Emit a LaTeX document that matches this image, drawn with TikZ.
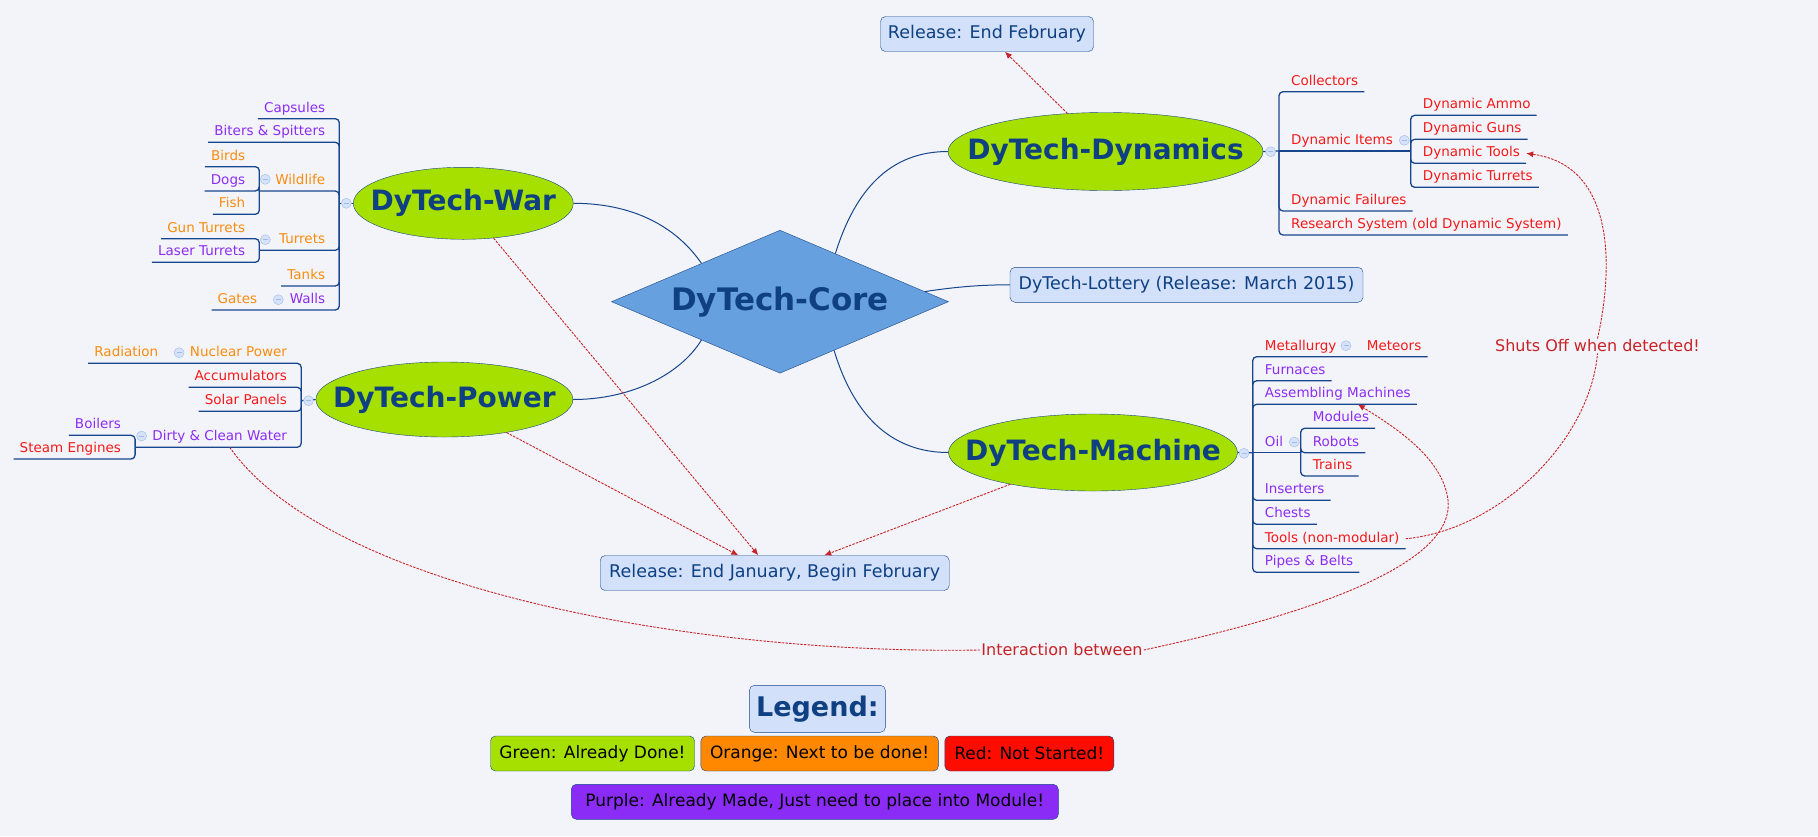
\documentclass[tikz,border=0pt]{standalone}
\usepackage{fontspec}
\setmainfont{DejaVu Sans}
\usepackage{tikz}
\usetikzlibrary{calc,shapes.geometric,arrows.meta,positioning}
\definecolor{mybg}{RGB}{242,244,249}
\definecolor{mygreen}{RGB}{165,224,0}
\definecolor{mynavy}{RGB}{14,64,130}
\definecolor{myline}{RGB}{24,70,140}
\definecolor{mycore}{RGB}{103,160,222}
\definecolor{mybox}{RGB}{210,224,250}
\definecolor{myred}{RGB}{245,25,25}
\definecolor{myorange}{RGB}{250,140,15}
\definecolor{mypurple}{RGB}{140,45,245}
\definecolor{mylink}{RGB}{200,35,40}
\definecolor{myicon}{RGB}{214,226,250}
\definecolor{myiconline}{RGB}{160,188,232}
\definecolor{legorange}{RGB}{255,136,0}
\definecolor{legred}{RGB}{255,12,0}
\definecolor{legpurple}{RGB}{139,44,246}
\tikzstyle{core}=[draw=myline,fill=mycore,diamond,minimum width=337pt,minimum height=143pt,inner sep=0pt,text=mynavy,font=\fontsize{31}{34}\selectfont\bfseries]
\tikzstyle{topic}=[draw=myline,fill=mygreen,ellipse,inner sep=0pt,text=mynavy,font=\fontsize{28}{30}\selectfont\bfseries]
\tikzstyle{release}=[draw=myline,fill=mybox,rounded corners=5pt,minimum height=35pt,inner xsep=2pt,text=mynavy,font=\fontsize{17.5}{20}\selectfont]
\tikzstyle{legendbox}=[draw=myline,rounded corners=5pt,minimum height=35pt,inner xsep=1pt,font=\fontsize{17}{20}\selectfont]
\tikzstyle{leaf}=[inner xsep=6pt,inner ysep=3pt,text height=10pt,text depth=3.5pt,font=\fontsize{13.5}{15}\selectfont]
\tikzstyle{lleaf}=[leaf,anchor=south east]
\tikzstyle{rleaf}=[leaf,anchor=south west]
\tikzstyle{branch}=[draw=myline,line width=1.3pt,rounded corners=4pt]
\tikzstyle{tie}=[draw=myline,line width=1pt]
\tikzstyle{link}=[draw=mylink,line width=0.9pt,dash pattern=on 2.5pt off 1.2pt,-{Latex[length=7pt,width=6pt]}]
\tikzstyle{note}=[fill=mybg,inner sep=1pt,text=mylink,font=\fontsize{16}{18}\selectfont]
\tikzstyle{fold}=[circle,draw=myiconline,fill=myicon,minimum size=10pt,inner sep=0pt,path picture={\draw[myiconline,line width=0.8pt] ([xshift=-2.5pt]path picture bounding box.center) -- ([xshift=2.5pt]path picture bounding box.center);}]

\begin{document}
\begin{tikzpicture}[x=1pt,y=-1pt]
\fill[mybg] (0,0) rectangle (1818,836);
\useasboundingbox (0,0) rectangle (1818,836);

\node [core] (core) at (780,301.7) {\makebox[0pt]{DyTech-Core}};
\node [topic,minimum width=315pt,minimum height=78pt] (dyn) at (1105.5,151.5) {\makebox[0pt]{DyTech-Dynamics}};
\node [topic,minimum width=220pt,minimum height=72pt] (war) at (463.3,203.3) {\makebox[0pt]{DyTech-War}};
\node [topic,minimum width=257pt,minimum height=75pt] (pow) at (444.4,399.5) {\makebox[0pt]{DyTech-Power}};
\node [topic,minimum width=289pt,minimum height=77pt] (mach) at (1093,452.5) {\makebox[0pt]{DyTech-Machine}};

\node [release,minimum width=213pt] (relFeb) at (987,34) {Release: End February};
\node [release,minimum width=353pt] (lot) at (1186.5,284.8) {DyTech-Lottery (Release: March 2015)};
\node [release,minimum width=349pt] (relJan) at (774.7,573) {Release: End January, Begin February};

\node [release,minimum width=136pt,minimum height=47pt,font=\fontsize{27}{30}\selectfont\bfseries] (leg) at (817.4,708.8) {Legend:};
\node [legendbox,fill=mygreen,minimum width=204pt] (legGreen) at (592.5,753.5) {Green: Already Done!};
\node [legendbox,fill=legorange,minimum width=237.5pt,right=6pt of legGreen] (legOrange) {Orange: Next to be done!};
\node [legendbox,fill=legred,minimum width=169pt,right=6pt of legOrange] (legRed) {Red: Not Started!};
\node [legendbox,fill=legpurple,minimum width=487pt] (legPurple) at (814.8,801.8) {Purple: Already Made, Just need to place into Module!};

\draw [tie] (core.41) .. controls (855,190) and (890,151.5) .. (dyn.west);
\draw [tie] (core.154) .. controls (680,232) and (640,203.3) .. (war.east);
\draw [tie] (core.206) .. controls (680,375) and (630,399.5) .. (pow.east);
\draw [tie] (core.318) .. controls (855,420) and (895,452.5) .. (mach.west);
\draw [tie] (core.4) .. controls (955,287) and (980,284.8) .. (lot.west);

\coordinate (warHub) at (339.3,203.3);
\coordinate (wildHub) at (259.3,191);
\coordinate (turHub) at (259.3,250.3);
\node [lleaf,text=mypurple] (capsules) at (331.3,118.7) {Capsules};
\node [lleaf,text=mypurple] (biters) at (331.3,142.3) {Biters \& Spitters};
\node [lleaf,text=myorange] (wildlife) at (331.3,191) {Wildlife};
\node [lleaf,text=myorange] (birds) at (251.3,166.7) {Birds};
\node [lleaf,text=mypurple] (dogs) at (251.3,191) {Dogs};
\node [lleaf,text=myorange] (fish) at (251.3,214.3) {Fish};
\node [lleaf,text=myorange] (turrets) at (331.3,250.3) {Turrets};
\node [lleaf,text=myorange] (gunTur) at (251.3,238.7) {Gun Turrets};
\node [lleaf,text=mypurple] (laserTur) at (251.3,262.3) {Laser Turrets};
\node [lleaf,text=myorange] (tanks) at (331.3,286) {Tanks};
\node [lleaf,text=mypurple] (walls) at (331.3,310) {Walls};
\node [lleaf,text=myorange] (gates) at (263.3,310) {Gates};
\draw [branch] (war.west) -- (warHub);
\foreach \n in {capsules,biters,tanks,gates}
  \draw [branch] (warHub) |- (\n.south west);
\draw [branch] (warHub) |- (wildHub);
\draw [branch] (warHub) |- (turHub);
\foreach \n in {birds,dogs,fish}
  \draw [branch] (wildHub) |- (\n.south west);
\foreach \n in {gunTur,laserTur}
  \draw [branch] (turHub) |- (\n.south west);
\node [fold] (warFold) at (346.3,203.3) {};
\node [fold] (wildFold) at (265.3,179.3) {};
\node [fold] (turFold) at (265.3,239.7) {};
\node [fold] (wallsFold) at (278.3,299.7) {};

\coordinate (powHub) at (301.2,400.7);
\coordinate (waterHub) at (135.1,447.3);
\node [lleaf,text=myorange] (nuclear) at (293.2,363.3) {Nuclear Power};
\node [lleaf,text=myorange] (radiation) at (164.4,363.3) {Radiation};
\node [lleaf,text=myred] (accum) at (293.2,387.3) {Accumulators};
\node [lleaf,text=myred] (solar) at (293.2,411.3) {Solar Panels};
\node [lleaf,text=mypurple] (water) at (293.2,447.3) {Dirty \& Clean Water};
\node [lleaf,text=mypurple] (boilers) at (127.1,435.3) {Boilers};
\node [lleaf,text=myred] (steam) at (127.1,459) {Steam Engines};
\draw [branch] (pow.west) -- (powHub);
\foreach \n in {radiation,accum,solar}
  \draw [branch] (powHub) |- (\n.south west);
\draw [branch] (powHub) |- (waterHub);
\foreach \n in {boilers,steam}
  \draw [branch] (waterHub) |- (\n.south west);
\node [fold] (powFold) at (308.5,400.7) {};
\node [fold] (nuclearFold) at (179.1,352.7) {};
\node [fold] (waterFold) at (141.6,436) {};

\coordinate (dynHub) at (1279,151);
\coordinate (itemsHub) at (1410.7,151);
\node [rleaf,text=myred] (collectors) at (1285,91.7) {Collectors};
\node [rleaf,text=myred] (dynItems) at (1285,151) {Dynamic Items};
\node [rleaf,text=myred] (ammo) at (1416.7,115.3) {Dynamic Ammo};
\node [rleaf,text=myred] (guns) at (1416.7,139.3) {Dynamic Guns};
\node [rleaf,text=myred] (dtools) at (1416.7,163.3) {Dynamic Tools};
\node [rleaf,text=myred] (dturrets) at (1416.7,187.3) {Dynamic Turrets};
\node [rleaf,text=myred] (failures) at (1285,211) {Dynamic Failures};
\node [rleaf,text=myred] (research) at (1285,235) {Research System (old Dynamic System)};
\draw [branch] (dyn.east) -- (dynHub);
\foreach \n in {collectors,failures,research}
  \draw [branch] (dynHub) |- (\n.south east);
\draw [branch] (dynHub) -- (itemsHub);
\foreach \n in {ammo,guns,dtools,dturrets}
  \draw [branch] (itemsHub) |- (\n.south east);
\node [fold] (dynFold) at (1270.7,151.7) {};
\node [fold] (itemsFold) at (1404.3,140.3) {};

\coordinate (machHub) at (1252.7,452.7);
\coordinate (oilHub) at (1300.7,452.7);
\node [rleaf,text=myred] (metal) at (1258.7,356.7) {Metallurgy};
\node [rleaf,text=myred] (meteors) at (1360.7,356.7) {Meteors};
\node [rleaf,text=mypurple] (furnaces) at (1258.7,380.7) {Furnaces};
\node [rleaf,text=mypurple] (asm) at (1258.7,404.3) {Assembling Machines};
\node [rleaf,text=mypurple] (oil) at (1258.7,452.7) {Oil};
\node [rleaf,text=mypurple] (modules) at (1306.7,428.3) {Modules};
\node [rleaf,text=mypurple] (robots) at (1306.7,452.7) {Robots};
\node [rleaf,text=myred] (trains) at (1306.7,476) {Trains};
\node [rleaf,text=mypurple] (inserters) at (1258.7,500.3) {Inserters};
\node [rleaf,text=mypurple] (chests) at (1258.7,524.3) {Chests};
\node [rleaf,text=myred] (tools) at (1258.7,548.7) {Tools (non-modular)};
\node [rleaf,text=mypurple] (pipes) at (1258.7,572.3) {Pipes \& Belts};
\draw [branch] (mach.east) -- (machHub);
\foreach \n in {meteors,furnaces,asm,inserters,chests,tools,pipes}
  \draw [branch] (machHub) |- (\n.south east);
\draw [branch] (machHub) -- (oilHub);
\foreach \n in {modules,robots,trains}
  \draw [branch] (oilHub) |- (\n.south east);
\node [fold] (machFold) at (1244,453.3) {};
\node [fold] (metalFold) at (1346,345.7) {};
\node [fold] (oilFold) at (1294.3,442) {};

\draw [link] (dyn.135) -- (relFeb);
\draw [link] (war.311) -- ($(relJan.north)+(-16.4,0)$);
\draw [link] (pow.332) -- ($(relJan.north)+(-36.4,0)$);
\draw [link] (mach.201.6) -- ($(relJan.north)+(49.6,0)$);

\node [note] (inter) at (1062,650) {Interaction between};
\draw [link,-] ($(water.south)+(10,0)$) .. controls (330,590) and (700,655) .. (inter.west);
\draw [link] (inter.east) .. controls (1330,610) and (1455,560) .. (1448,500) .. controls (1443,460) and (1400,430) .. ($(asm.south)+(20,0)$);

\node [note] (shuts) at (1597.5,346) {Shuts Off when detected!};
\draw [link,-] (tools.east) .. controls (1500,530) and (1590,440) .. (shuts.south);
\draw [link] (shuts.north) .. controls (1615,260) and (1612,165) .. (dtools.east);
\end{tikzpicture}
\end{document}
